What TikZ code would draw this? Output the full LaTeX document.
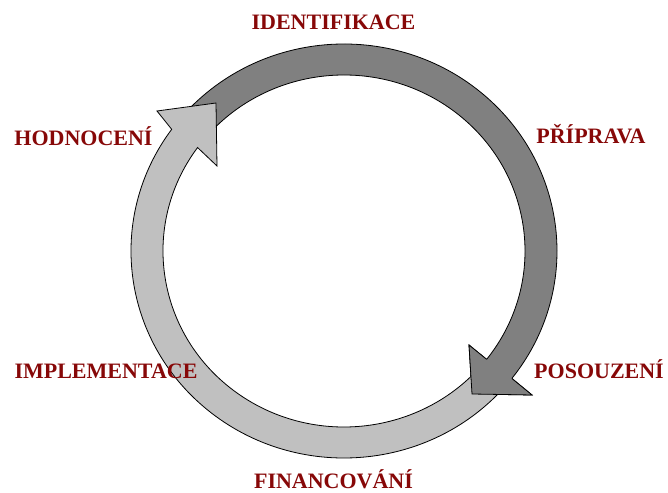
\documentclass[tikz,border=0pt]{standalone}
\usepackage{fontspec}
\setmainfont{Liberation Serif}
\definecolor{lbl}{RGB}{135,8,8}
\definecolor{darkband}{RGB}{128,128,128}
\definecolor{lightband}{RGB}{192,192,192}
\begin{document}
\begin{tikzpicture}[x=1pt,y=1pt,
  band/.style={draw=black,line width=0.8pt,line join=miter},
  lbltext/.style={inner sep=0pt,anchor=base,text=lbl,font=\fontsize{22}{24}\selectfont\bfseries}]
\useasboundingbox (0,0) rectangle (668,492);
% dark arrow (IDENTIFIKACE -> POSOUZENI)
\path[band,fill=darkband] ({344+213*cos(136)},{241+207*sin(136)})
  arc[start angle=136,end angle=-38,x radius=213pt,y radius=207pt]
  -- (532,97) -- (472,98) -- (469,147)
  -- ({344+181*cos(-38)},{241+176*sin(-38)})
  arc[start angle=-38,end angle=136,x radius=181pt,y radius=176pt] -- cycle;
% light arrow (POSOUZENI -> HODNOCENI)
\path[band,fill=lightband] ({344+213*cos(-40)},{241+207*sin(-40)})
  arc[start angle=-40,end angle=-216,x radius=213pt,y radius=207pt]
  -- (157,381) -- (216,389) -- (217,326)
  -- ({344+181*cos(144)},{241+176*sin(144)})
  arc[start angle=144,end angle=320,x radius=181pt,y radius=176pt] -- cycle;
% dark head again on top of light tail
\coordinate (dOut) at ({344+213*cos(-38)},{241+207*sin(-38)});
\coordinate (dIn) at ({344+181*cos(-38)},{241+176*sin(-38)});
\coordinate (dW1) at (532,97);
\coordinate (dTip) at (472,98);
\coordinate (dW2) at (469,147);
\fill[darkband] (dOut) -- (dW1) -- (dTip) -- (dW2) -- (dIn) -- cycle;
\draw[line width=0.8pt,line join=miter] (dOut) -- (dW1) -- (dTip) -- (dW2) -- (dIn);
% labels
\node[lbltext] (ident) at (333.5,462) {IDENTIFIKACE};
\node[lbltext] (prip) at (591,348) {PŘÍPRAVA};
\node[lbltext] (hodn) at (83.5,346) {HODNOCENÍ};
\node[lbltext] (poso) at (599,113) {POSOUZENÍ};
\node[lbltext] (impl) at (106,113) {IMPLEMENTACE};
\node[lbltext] (fina) at (333.5,4) {FINANCOVÁNÍ};
\end{tikzpicture}
\end{document}
